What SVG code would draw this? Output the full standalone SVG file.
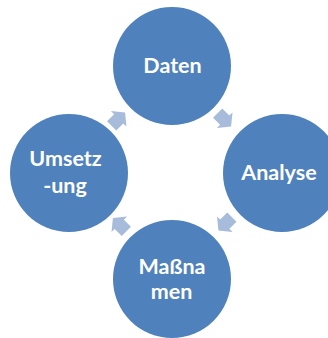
<svg xmlns="http://www.w3.org/2000/svg" width="328" height="338" viewBox="0 0 328 338">
<style>
.node{fill:#4F81BD;}
.lbl{font-family:Lato,"Liberation Sans",sans-serif;font-weight:bold;font-size:21.5px;fill:#FFFFFF;text-anchor:middle;}
.arr{fill:#A7BBDA;}
</style>
<defs>
<polygon id="arrowShape" points="-9,-6.5 1,-6.5 1,-11 10,0 1,11 1,6.5 -9,6.5"/>
</defs>
<rect width="328" height="338" fill="#FFFFFF"/>
<g id="connectors">
<use href="#arrowShape" class="arr" transform="translate(224,119.5) rotate(45)"/>
<use href="#arrowShape" class="arr" transform="translate(225.5,223.5) rotate(135)"/>
<use href="#arrowShape" class="arr" transform="translate(120,225) rotate(-135)"/>
<use href="#arrowShape" class="arr" transform="translate(118,119.5) rotate(-45)"/>
</g>
<g id="node-daten">
<circle class="node" cx="172" cy="66" r="59"/>
<text class="lbl" x="172.5" y="73">Daten</text>
</g>
<g id="node-analyse">
<circle class="node" cx="282" cy="173" r="59"/>
<text class="lbl" x="279" y="180">Analyse</text>
</g>
<g id="node-massnahmen">
<circle class="node" cx="172" cy="279" r="59"/>
<text class="lbl" x="172" y="274">Maßna</text>
<text class="lbl" x="171.5" y="299">men</text>
</g>
<g id="node-umsetzung">
<circle class="node" cx="69" cy="173" r="59"/>
<text class="lbl" x="65.5" y="166">Umsetz</text>
<text class="lbl" x="65" y="193">-ung</text>
</g>
</svg>
